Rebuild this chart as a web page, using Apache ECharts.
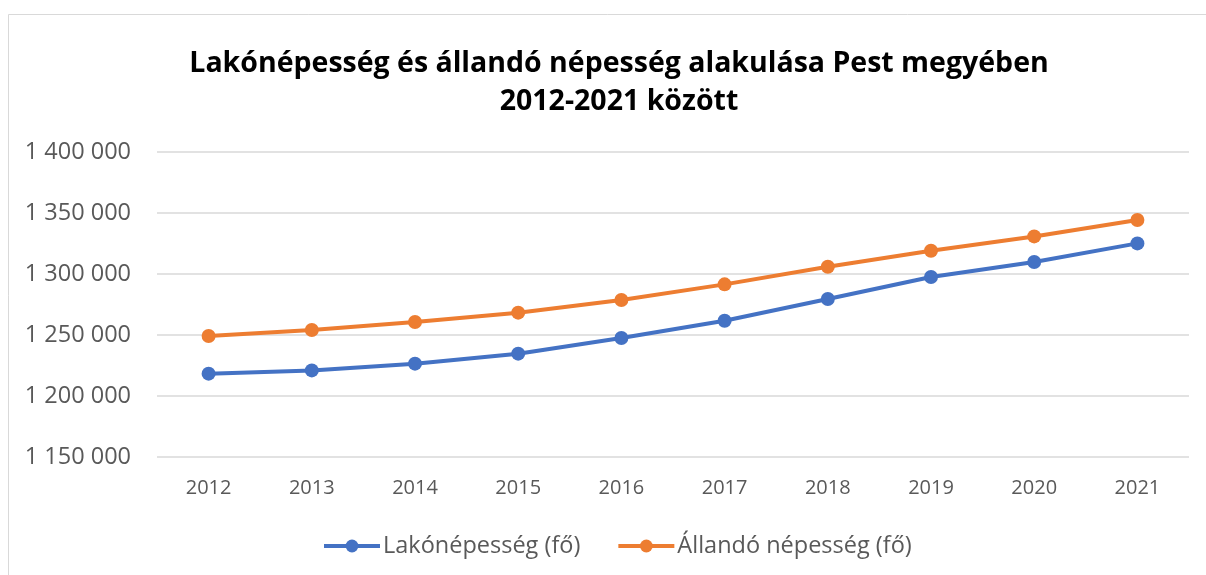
<!DOCTYPE html>
<html>
<head>
<meta charset="utf-8">
<script src="https://cdn.jsdelivr.net/npm/echarts@6/dist/echarts.min.js"></script>
<style>
	html, body { margin: 0; padding: 0; background: #fff; }
	#chart { width: 1206px; height: 575px; }
</style>
</head>
<body>
<div id="chart"></div>
<script>
	// years on the x axis
	var years = ['2012', '2013', '2014', '2015', '2016', '2017', '2018', '2019', '2020', '2021'];
	// Lakónépesség (fő)
	var lakonepesseg = [1218300, 1221000, 1226500, 1234700, 1247500, 1261700, 1279500, 1297500, 1309800, 1325100];
	// Állandó népesség (fő)
	var allandoNepesseg = [1249200, 1254100, 1260700, 1268300, 1278700, 1291500, 1306000, 1319100, 1330800, 1344300];
	var seriesNames = ['Lakónépesség (fő)', 'Állandó népesség (fő)'];

	var font = '"Open Sans", "Noto Sans", sans-serif';

	/** formats a number with spaces as thousand separators */
	function formatThousands(pValue) {
		return String(pValue).replace(/\B(?=(\d{3})+(?!\d))/g, ' ');
	}

	function makeSeries(pName, pData, pColor) {
		return {
			name: pName,
			type: 'line',
			data: pData,
			symbol: 'circle',
			symbolSize: 14,
			lineStyle: { width: 4, color: pColor },
			itemStyle: { color: pColor },
			emphasis: { disabled: true }
		};
	}

	var chart = echarts.init(document.getElementById('chart'), null, { renderer: 'canvas' });
	chart.setOption({
		animation: false,
		backgroundColor: '#fff',
		graphic: [{
			type: 'rect',
			shape: { x: 8.5, y: 14.5, width: 1220, height: 600 },
			style: { fill: 'none', stroke: '#d9d9d9', lineWidth: 1 },
			silent: true
		}],
		title: {
			text: 'Lakónépesség és állandó népesség alakulása Pest megyében\n2012-2021 között',
			left: 614,
			textAlign: 'center',
			top: 40,
			textStyle: {
				fontFamily: font,
				fontWeight: 'bold',
				fontSize: 28.5,
				lineHeight: 38,
				color: '#000'
			}
		},
		legend: {
			data: seriesNames,
			left: 317,
			top: 529,
			itemWidth: 56,
			itemHeight: 16,
			itemGap: 36,
			lineStyle: { width: 4 },
			textStyle: { fontFamily: font, fontSize: 23.5, color: '#595959', padding: [0, 0, 0, -2] }
		},
		grid: { left: 157, right: 17, top: 152, bottom: 118, containLabel: false },
		xAxis: {
			type: 'category',
			data: years,
			boundaryGap: true,
			axisLine: { show: false },
			axisTick: { show: false },
			axisLabel: { fontFamily: font, fontSize: 20, color: '#595959', margin: 21 }
		},
		yAxis: {
			type: 'value',
			min: 1150000,
			max: 1400000,
			interval: 50000,
			axisLine: { show: false },
			axisTick: { show: false },
			splitLine: { lineStyle: { color: '#d9d9d9', width: 1.5 } },
			axisLabel: {
				fontFamily: font,
				fontSize: 23.5,
				color: '#595959',
				margin: 26,
				formatter: formatThousands
			}
		},
		series: [
			makeSeries(seriesNames[0], lakonepesseg, '#4472C4'),
			makeSeries(seriesNames[1], allandoNepesseg, '#ED7D31')
		]
	});
</script>
</body>
</html>
